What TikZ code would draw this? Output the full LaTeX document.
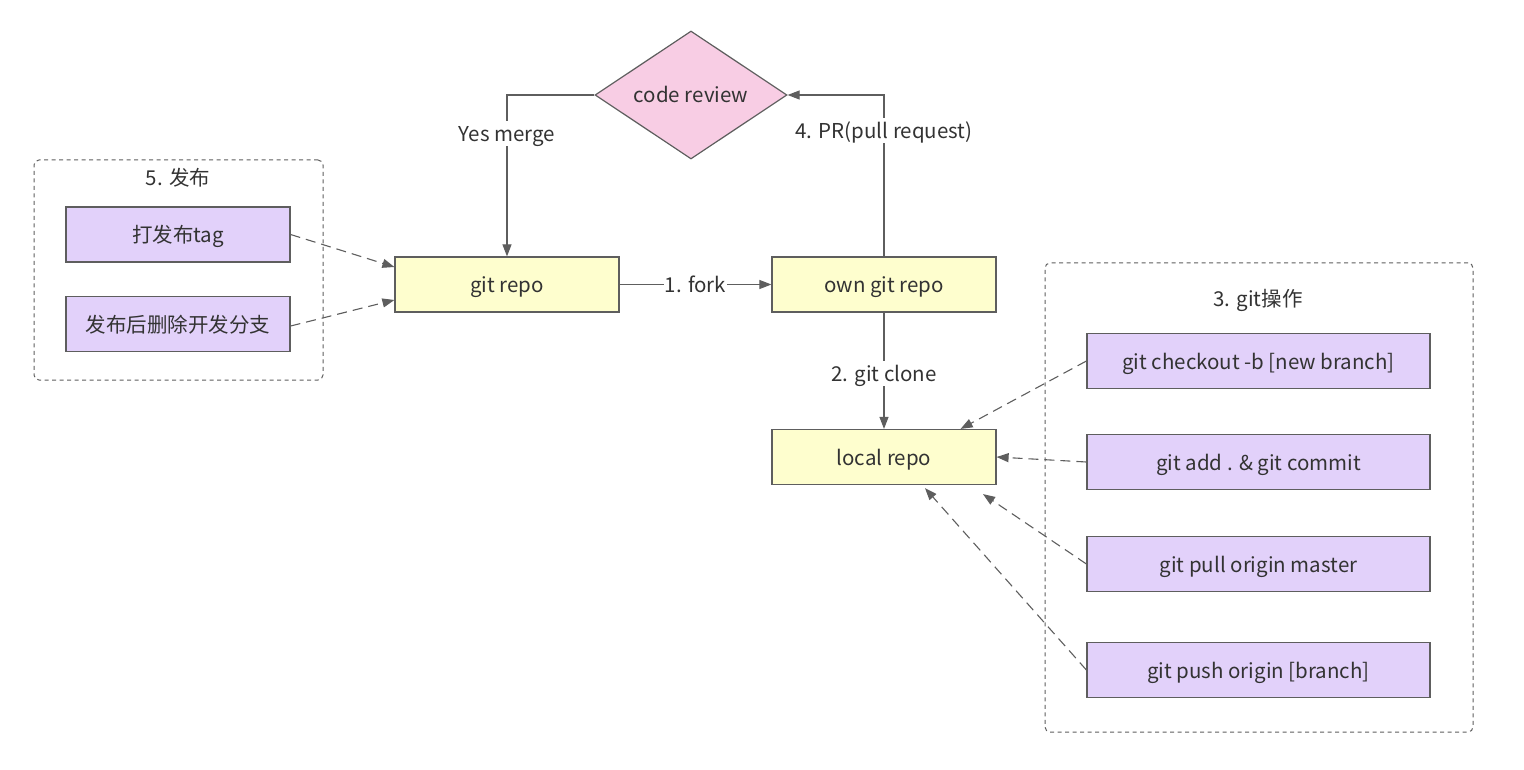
\documentclass[tikz,border=0pt]{standalone}
\usepackage{fontspec}
\setmainfont{Noto Sans CJK SC}
\usetikzlibrary{arrows.meta,shapes.geometric,calc}
\definecolor{ln}{HTML}{5E5E5E}
\definecolor{txt}{HTML}{333333}
\definecolor{yel}{HTML}{FEFECE}
\definecolor{pur}{HTML}{E2D1FA}
\definecolor{pnk}{HTML}{F8CDE4}
\begin{document}
\begin{tikzpicture}[x=1pt,y=-1pt,font=\fontsize{20.5}{24}\selectfont,
  tx/.style={text=txt,text height=20pt,text depth=4pt},
  box/.style={draw=ln,line width=1.2pt,minimum width=224pt,minimum height=55pt,inner sep=0pt,tx},
  ybox/.style={box,fill=yel},
  pbox/.style={box,fill=pur},
  pbig/.style={pbox,minimum width=343pt},
  grp/.style={draw=ln,line width=1pt,dash pattern=on 4pt off 3.5pt,rounded corners=5pt,inner sep=0pt},
  conn/.style={draw=ln,line width=1.1pt,-{Triangle[length=12pt,width=9pt]}},
  dconn/.style={conn,dash pattern=on 10pt off 6pt},
  lbl/.style={fill=white,inner sep=0.5pt,tx}]
\useasboundingbox (0,0) rectangle (1524,770);
% groups
\node (g5) [grp,minimum width=289pt,minimum height=220pt] at (178.5,270) {};
\node (g3) [grp,minimum width=428pt,minimum height=469pt] at (1259,497.5) {};
\node (g5t) [tx] at (178,178) {5. 发布};
\node (g3t) [tx] at (1258,298) {3. git操作};
% main nodes
\node (review) [diamond,aspect=1.5,draw=ln,line width=1.2pt,fill=pnk,minimum width=192pt,minimum height=128pt,inner sep=0pt,tx] at (691,95) {code review};
\node (repo) [ybox] at (507,284.5) {git repo};
\node (own) [ybox] at (884,284.5) {own git repo};
\node (local) [ybox] at (884,457) {local repo};
\node (tag) [pbox] at (178,234.5) {打发布tag};
\node (del) [pbox] at (178,324) {发布后删除开发分支};
\node (chk) [pbig] at (1258.5,361) {git checkout -b [new branch]};
\node (add) [pbig] at (1258.5,462) {git add . \& git commit};
\node (pull) [pbig] at (1258.5,564) {git pull origin master};
\node (push) [pbig] at (1258.5,670) {git push origin [branch]};
% solid connectors
\draw[conn] (repo.east) -- node[lbl]{1. fork} (own.west);
\draw[conn] (own.south) -- node[lbl,pos=0.52]{2. git clone} (local.north);
\draw[conn] (review.west) -| node[lbl,pos=0.62]{Yes merge} (repo.north);
\draw[conn] (own.north) |- node[lbl,pos=0.39]{4. PR(pull request)} (review.east);
% dashed connectors
\draw[dconn] (tag.east) -- ($(repo.west)+(0,-17.5)$);
\draw[dconn] ([yshift=-2pt]del.east) -- ($(repo.west)+(0,15.5)$);
\draw[dconn] (chk.west) -- ($(local.north east)+(-36,0)$);
\draw[dconn] (add.west) -- (local.east);
\draw[dconn] (pull.west) -- ($(local.south)+(99,9)$);
\draw[dconn] (push.west) -- ($(local.south)+(41,3)$);
\end{tikzpicture}
\end{document}
